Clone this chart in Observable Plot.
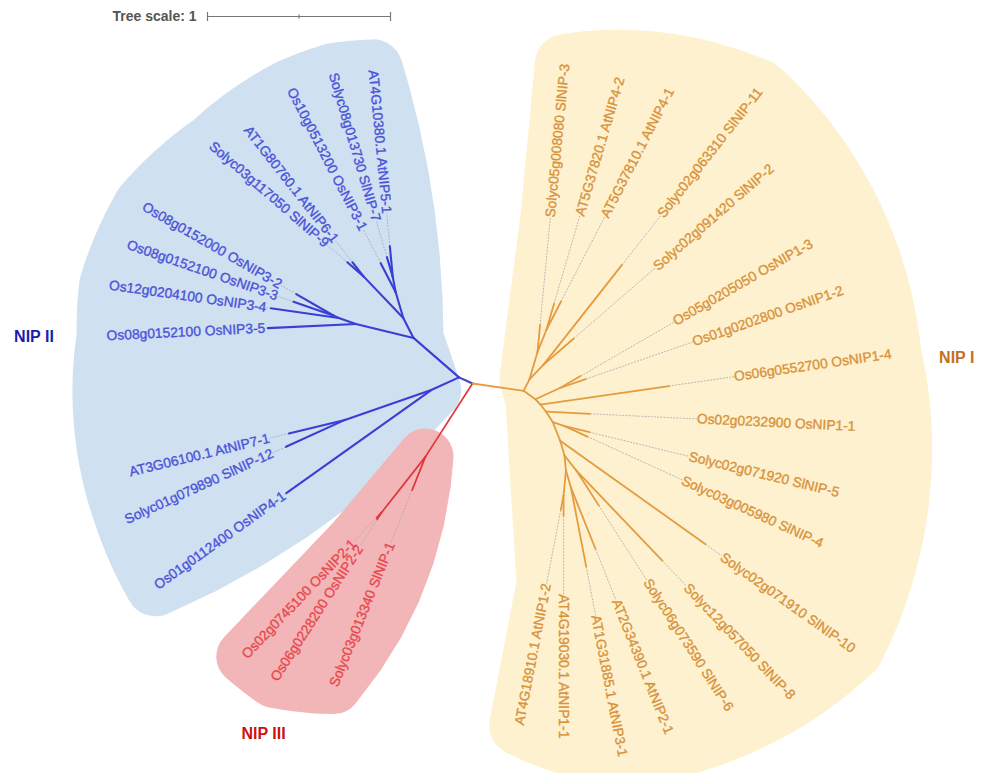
<!DOCTYPE html>
<html>
<head>
<meta charset="utf-8">
<script src="https://cdn.jsdelivr.net/npm/d3@7"></script>
<script src="https://cdn.jsdelivr.net/npm/@observablehq/plot@0.6"></script>
<style>
  html, body { margin: 0; padding: 0; background: #ffffff; }
  #chart svg { display: block; }
</style>
</head>
<body>
<div id="chart"></div>
<script>
// ---------------------------------------------------------------
// NIP aquaporin tree (Arabidopsis, rice, tomato), unrooted layout.
// Children of a node are listed in counter-clockwise drawing order.
// ---------------------------------------------------------------
const nodeIds = [
  "root", "b0", "c1", "o1",
  // NIP II
  "b1", "b9", "b5", "b2", "b7", "b6", "b8",
  "Os10g0513200 OsNIP3-1",
  "AT4G10380.1 AtNIP5-1", "Solyc08g013730 SlNIP-7",
  "AT1G80760.1 AtNIP6-1", "Solyc03g117050 SlNIP-9",
  "b3", "Os08g0152100 OsNIP3-5", "b4", "Os12g0204100 OsNIP3-4",
  "Os08g0152000 OsNIP3-2", "Os08g0152100 OsNIP3-3",
  "b10", "Os01g0112400 OsNIP4-1",
  "AT3G06100.1 AtNIP7-1", "Solyc01g079890 SlNIP-12",
  // NIP III
  "c2", "Solyc03g013340 SlNIP-1",
  "Os02g0745100 OsNIP2-1", "Os06g0228200 OsNIP2-2",
  // NIP I
  "o6", "o2", "x1", "g1", "x2", "Os06g0552700 OsNIP1-4",
  "x3", "Os02g0232900 OsNIP1-1", "x4", "g2",
  "Solyc03g005980 SlNIP-4", "Solyc02g071920 SlNIP-5",
  "x5", "Solyc02g071910 SlNIP-10", "x6", "g3",
  "Solyc06g073590 SlNIP-6", "Solyc12g057050 SlNIP-8",
  "g5", "g4",
  "AT4G18910.1 AtNIP1-2", "AT4G19030.1 AtNIP1-1",
  "AT1G31885.1 AtNIP3-1", "AT2G34390.1 AtNIP2-1",
  "Os01g0202800 OsNIP1-2", "Os05g0205050 OsNIP1-3",
  "a", "e", "Solyc02g091420 SlNIP-2", "Solyc02g063310 SlNIP-11",
  "f", "Solyc05g008080 SlNIP-3",
  "AT5G37810.1 AtNIP4-1", "AT5G37820.1 AtNIP4-2"
];
const parentIds = [
  null, "root", "root", "root",
  "b0", "b0", "b1", "b1", "b5", "b5", "b7",
  "b7",
  "b8", "b8",
  "b6", "b6",
  "b2", "b2", "b3", "b3",
  "b4", "b4",
  "b9", "b9",
  "b10", "b10",
  "c1", "c1",
  "c2", "c2",
  "o1", "o1", "o6", "o6", "x1", "x1",
  "x2", "x2", "x3", "x3",
  "g2", "g2",
  "x4", "x4", "x5", "x5",
  "g3", "g3",
  "x6", "x6",
  "g5", "g5",
  "g4", "g4",
  "g1", "g1",
  "o2", "o2", "a", "a",
  "e", "e",
  "f", "f"
];
// branch lengths (substitutions per site)
const branchLengths = [
  0, 0.081, 0.475, 0.282,
  0.329, 0.167, 0.122, 0.324, 0.147, 0.315, 0.084,
  0.179,
  0.170, 0.114,
  0.098, 0.117,
  0.099, 0.481, 0.030, 0.375,
  0.237, 0.233,
  0.499, 0.972,
  0.315, 0.354,
  0.388, 0.197,
  0.040, 0.045,
  0.079, 0.070, 0.040, 0.148, 0.050, 0.710,
  0.067, 0.240, 0.110, 0.069,
  0.137, 0.140,
  0.084, 0.975, 0.083, 0.105,
  0.226, 0.680,
  0.137, 0.097,
  0.080, 0.110,
  0.440, 0.360,
  0.148, 0.130,
  0.110, 0.156, 0.220, 0.695,
  0.130, 0.149,
  0.175, 0.150
];
// dotted leader from each leaf tip out to its label (tree units); internal nodes: null
const leaderLengths = [
  null, null, null, null,
  null, null, null, null, null, null, null,
  0.205,
  0.180, 0.205,
  0.148, 0.147,
  null, 0.015, null, 0.025,
  0.097, 0.093,
  null, 0.015,
  0.110, 0.080,
  null, 0.311,
  0.180, 0.175,
  null, null, null, null, null, 0.360,
  null, 0.585, null, null,
  0.570, 0.560,
  null, 0.110, null, null,
  0.485, 0.190,
  null, null,
  0.410, 0.430,
  0.270, 0.300,
  0.620, 0.590,
  null, null, 0.590, 0.340,
  null, 0.590,
  0.520, 0.500
];

// subfamilies: root node of each clade
const cladeNames   = ["NIP II", "NIP III", "NIP I"];
const cladeRootIds = ["b0", "c1", "o1"];

// ---------------- styling / layout settings ----------------
const W = 982, H = 773;
const pxPerUnit = 183;              // "Tree scale: 1" bar is 183 px long
const rootAt = [472, 383];          // where the tree centre sits on the page
const startAngle = 90;              // equal-angle layout starts straight up
const labelSize = 13.8;
const labelFont = '"Liberation Sans", Arial, sans-serif';
// pad: margin of the shaded range around its labels (px);
// bulge: extra swell of the two straight sides of the range (px)
const cladeStyle = {
  "NIP II":  {branch: "#3a3fd4", text: "#4b53d8", shade: "#cfe0f1", title: "#1c1cab", pad: 30, bulge: [10, 18], width: 2.1, anchors: ["b1", "b9"], titleAt: [173.9, 2.41]},
  "NIP III": {branch: "#e0353a", text: "#e8494d", shade: "#f2b6b9", title: "#cc1111", pad: 28, bulge: [0, 20],  width: 1.7, anchors: ["c1"],       titleAt: [239.2, 2.23]},
  "NIP I":   {branch: "#e59b3e", text: "#d9923a", shade: "#fdf1d0", title: "#c2721c", pad: 30, bulge: [0, 0],   width: 1.8, anchors: ["o6", "o2"], titleAt: [3.07, 2.65]}
};

// ---------------- equal-angle layout ----------------
const len = new Map(nodeIds.map((id, i) => [id, branchLengths[i]]));
const leader = new Map(nodeIds.map((id, i) => [id, leaderLengths[i]]));
const parent = new Map(nodeIds.map((id, i) => [id, parentIds[i]]));
const children = new Map(nodeIds.map(id => [id, []]));
nodeIds.forEach((id, i) => { if (parentIds[i] != null) children.get(parentIds[i]).push(id); });

const leafCount = new Map();
(function count(id) {
  const c = children.get(id);
  const n = c.length ? d3.sum(c, count) : 1;
  leafCount.set(id, n);
  return n;
})("root");

const pos = new Map([["root", {x: 0, y: 0, angle: 0}]]);
const leafOrder = [];
(function place(id, a0, a1) {
  const kids = children.get(id);
  if (!kids.length) leafOrder.push(id);
  let a = a0;
  for (const c of kids) {
    const span = (a1 - a0) * leafCount.get(c) / leafCount.get(id);
    const mid = a + span / 2, r = mid * Math.PI / 180, p = pos.get(id);
    pos.set(c, {x: p.x + len.get(c) * Math.cos(r), y: p.y + len.get(c) * Math.sin(r), angle: mid});
    place(c, a, a + span);
    a += span;
  }
})("root", startAngle, startAngle + 360);

const cladeOf = id => {
  let n = id;
  while (n && !cladeRootIds.includes(n)) n = parent.get(n);
  return cladeNames[cladeRootIds.indexOf(n)];
};

// text extent in tree units
const ctx = document.createElement("canvas").getContext("2d");
ctx.font = `${labelSize}px ${labelFont}`;
const textLen = s => ctx.measureText(s).width / pxPerUnit;

const branches = nodeIds.filter(id => id !== "root").map(id => {
  const p = pos.get(parent.get(id)), q = pos.get(id);
  return {x1: p.x, y1: p.y, x2: q.x, y2: q.y, clade: cladeOf(id)};
});

const leaves = leafOrder.map(id => {
  const q = pos.get(id);
  const a = ((q.angle % 360) + 360) % 360;
  const r = a * Math.PI / 180, ux = Math.cos(r), uy = Math.sin(r);
  const lx = q.x + leader.get(id) * ux, ly = q.y + leader.get(id) * uy;
  const w = textLen(id);
  const right = ux > -1e-9;
  return {
    name: id, clade: cladeOf(id), tipX: q.x, tipY: q.y,
    labX: lx, labY: ly, endX: lx + w * ux, endY: ly + w * uy,
    right, rotate: right ? -a : 180 - a
  };
});

// points strictly between two ends of a side, swollen outward
const swell = (from, to, px, centre) => {
  const dx = to.x - from.x, dy = to.y - from.y, L = Math.hypot(dx, dy);
  let nx = -dy / L, ny = dx / L;
  if (((from.x + to.x) / 2 - centre.x) * nx + ((from.y + to.y) / 2 - centre.y) * ny < 0) { nx = -nx; ny = -ny; }
  return [0.15, 0.3, 0.45, 0.6, 0.75, 0.9].map(t => {
    const o = px / pxPerUnit * 4 * t * (1 - t);
    return {x: from.x + t * dx + o * nx, y: from.y + t * dy + o * ny};
  });
};

// Shaded envelope of each clade: inner anchor nodes, the first and last
// labels, and an outer rim swept around the tree centre through the
// outermost label ends.
const shadeFor = name => {
  const st = cladeStyle[name];
  const ls = leaves.filter(d => d.clade === name);
  const first = ls[0], last = ls[ls.length - 1];
  const far = ls.map(d => [d.endX, d.endY]);
  const hull = new Set(d3.polygonHull(far).map(p => p.join()));
  const kept = far.filter((p, i) => i === 0 || i === far.length - 1 || hull.has(p.join()));
  let prev = null;
  const pk = kept.map(([x, y]) => {
    let a = Math.atan2(y, x) * 180 / Math.PI;
    if (prev != null) { while (a - prev > 180) a -= 360; while (a - prev < -180) a += 360; }
    prev = a;
    return {a, r: Math.hypot(x, y)};
  });
  const rim = [];
  for (let i = 0; i < pk.length - 1; i++) {
    const p = pk[i], q = pk[i + 1];
    const n = Math.max(2, Math.ceil(Math.abs(q.a - p.a) / 2));
    for (let j = 0; j < n; j++) {
      const t = j / n, a = (p.a + t * (q.a - p.a)) * Math.PI / 180, r = p.r + t * (q.r - p.r);
      rim.push({x: r * Math.cos(a), y: r * Math.sin(a)});
    }
  }
  rim.push({x: last.endX, y: last.endY});
  const anchors = st.anchors.map(id => pos.get(id));
  const a0 = anchors[0], aN = anchors[anchors.length - 1];
  const centre = {
    x: d3.mean([...far.map(p => p[0]), ...anchors.map(p => p.x)]),
    y: d3.mean([...far.map(p => p[1]), ...anchors.map(p => p.y)])
  };
  const firstFar = {x: first.endX, y: first.endY}, lastFar = {x: last.endX, y: last.endY};
  const sideIn = st.bulge[0] ? swell(a0, firstFar, st.bulge[0], centre) : [{x: first.labX, y: first.labY}];
  const sideOut = st.bulge[1] ? swell(lastFar, aN, st.bulge[1], centre) : [{x: last.labX, y: last.labY}];
  return [
    {x: a0.x, y: a0.y},
    ...sideIn,
    ...rim,
    ...sideOut,
    ...anchors.slice(1).reverse().map(p => ({x: p.x, y: p.y}))
  ];
};

const xDomain = [-rootAt[0] / pxPerUnit, (W - rootAt[0]) / pxPerUnit];
const yDomain = [-(H - rootAt[1]) / pxPerUnit, rootAt[1] / pxPerUnit];

// tree-scale bar (1 unit)
const barX0 = xDomain[0] + 207 / pxPerUnit, barY = yDomain[1] - 16 / pxPerUnit;
const scaleBar = [{x1: barX0, x2: barX0 + 1, y: barY}];
const scaleTicks = [0, 0.5, 1].map(t => ({x: barX0 + t, h: t === 0.5 ? 2 : 4.5}));

const titles = cladeNames.map(n => {
  const [ang, rad] = cladeStyle[n].titleAt, r = ang * Math.PI / 180;
  return {name: n, x: rad * Math.cos(r), y: rad * Math.sin(r), color: cladeStyle[n].title};
});

const marks = [];
for (const n of cladeNames) {
  const st = cladeStyle[n];
  marks.push(Plot.line(shadeFor(n), {
    x: "x", y: "y", curve: "linear-closed",
    fill: st.shade, stroke: st.shade, strokeWidth: 2 * st.pad, strokeLinejoin: "round"
  }));
}
marks.push(Plot.link(leaves, {
  x1: "tipX", y1: "tipY", x2: "labX", y2: "labY",
  stroke: "#a9a9a9", strokeWidth: 0.8, strokeDasharray: "2,1.2"
}));
for (const n of cladeNames) {
  const st = cladeStyle[n];
  marks.push(Plot.link(branches.filter(d => d.clade === n), {
    x1: "x1", y1: "y1", x2: "x2", y2: "y2",
    stroke: st.branch, strokeWidth: st.width, strokeLinecap: "round"
  }));
}
for (const side of [true, false]) {
  marks.push(Plot.text(leaves.filter(d => d.right === side), {
    x: "labX", y: "labY", text: "name", rotate: "rotate",
    textAnchor: side ? "start" : "end",
    fill: d => cladeStyle[d.clade].text,
    stroke: d => cladeStyle[d.clade].text, strokeWidth: 0.35,
    fontSize: labelSize, fontFamily: labelFont
  }));
}
marks.push(Plot.text(titles, {
  x: "x", y: "y", text: "name", fill: "color",
  fontSize: 16, fontWeight: "bold", fontFamily: '"Liberation Sans", Arial, sans-serif'
}));
// scale bar
marks.push(Plot.link(scaleBar, {x1: "x1", x2: "x2", y1: "y", y2: "y", stroke: "#777", strokeWidth: 1.2}));
marks.push(Plot.link(scaleTicks, {
  x1: "x", x2: "x", y1: d => barY - d.h / pxPerUnit, y2: d => barY + d.h / pxPerUnit,
  stroke: "#777", strokeWidth: 1.2
}));
marks.push(Plot.text(["Tree scale: 1"], {
  x: barX0 - 11 / pxPerUnit, y: barY, text: d => d, textAnchor: "end",
  fill: "#555", fontSize: 14, fontWeight: "bold", fontFamily: '"Liberation Sans", Arial, sans-serif'
}));

const chart = Plot.plot({
  width: W, height: H, margin: 0,
  x: {domain: xDomain, axis: null},
  y: {domain: yDomain, axis: null},
  color: {type: "identity"},
  marks
});
document.getElementById("chart").append(chart);
</script>
</body>
</html>
